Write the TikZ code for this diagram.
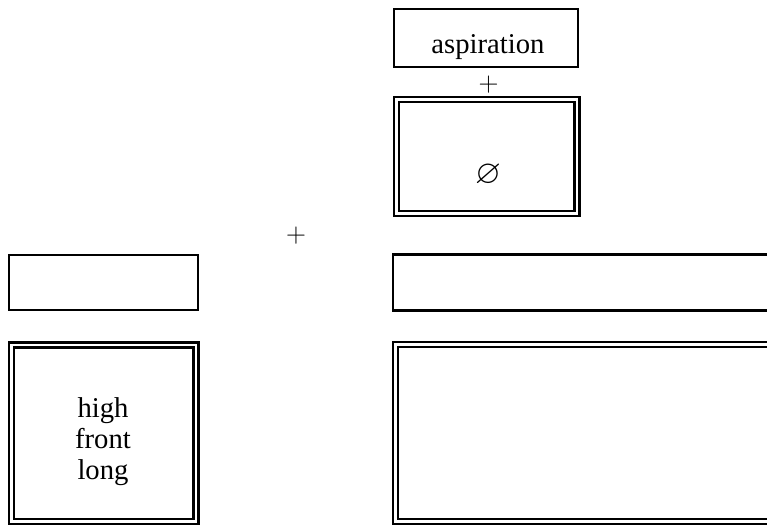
\documentclass[tikz,border=0pt]{standalone}
\usepackage{amssymb}
\usepackage{fontspec}
\setmainfont{Liberation Serif}

\tikzset{
  box/.style={line width=1.7pt},
  dbox/.style={line width=1.7pt, double, double distance=2.1pt},
  word/.style={anchor=base, inner sep=0pt, font=\fontsize{21.5}{24}\selectfont},
  sym/.style={inner sep=0pt, font=\fontsize{20}{22}\selectfont}
}

\begin{document}
\begin{tikzpicture}[x=0.75pt,y=0.75pt,yscale=-1,xscale=1]
\useasboundingbox (0,0) rectangle (767,527);
\clip (0,0) rectangle (767,527);

%Shape: Rectangle (top, single)
\draw [box] (394,9) rectangle (578,67) ;
%Shape: Rectangle (top, double)
\draw [dbox] (396.5,99.5) rectangle (577,213.5) ;
%Shape: Rectangle (left, single)
\draw [box] (9,255) rectangle (198,310) ;
%Shape: Rectangle (left, double)
\draw [dbox] (11.7,345) rectangle (196,521.3) ;
%Shape: Rectangle (right, single) -- runs off the page
\draw [box] (393,254.5) rectangle (800,310.5) ;
%Shape: Rectangle (right, double) -- runs off the page
\draw [dbox] (395.7,344.7) rectangle (800,521.3) ;

% Text Node
\node [word] (asp) at (488,54) {aspiration};
% Text Node
\node [sym] (plustop) at (488.5,85) {$+$};
% Text Node
\node [sym, font=\fontsize{25}{27}\selectfont] (empty) at (488,175) {$\varnothing$};
% Text Node
\node [sym] (plusmid) at (296,236) {$+$};
% Text Node
\node [word] (high) at (103,417) {high};
% Text Node
\node [word] (front) at (103,448) {front};
% Text Node
\node [word] (long) at (103,479) {long};

\end{tikzpicture}
\end{document}
